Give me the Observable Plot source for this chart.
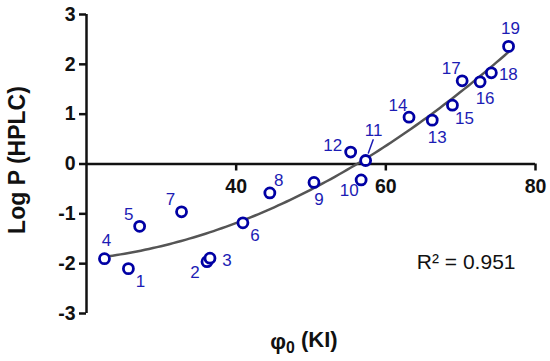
<!DOCTYPE html>
<html>
<head>
<meta charset="utf-8">
<script src="https://cdn.jsdelivr.net/npm/d3@7"></script>
<script src="https://cdn.jsdelivr.net/npm/@observablehq/plot@0.6"></script>
<style>
  html, body { margin: 0; padding: 0; background: #fff; }
  #chart { width: 550px; height: 361px; }
</style>
</head>
<body>
<div id="chart"></div>
<script>
// ---- data ----
const compoundIds = ["1","2","3","4","5","6","7","8","9","10","11","12","13","14","15","16","17","18","19"];
const phi0Values  = [25.6, 36.1, 36.5, 22.4, 27.1, 40.9, 32.7, 44.5, 50.4, 56.7, 57.3, 55.3, 66.2, 63.1, 68.9, 72.6, 70.2, 74.1, 76.4];
const logPValues  = [-2.10, -1.96, -1.89, -1.90, -1.25, -1.18, -0.96, -0.58, -0.37, -0.32, 0.07, 0.24, 0.88, 0.94, 1.18, 1.65, 1.67, 1.83, 2.36];
const labelSides  = ["SE","SW","E","N","NW","SE","NW","NE","S","SW","NN","W","S","NW","SE","S","NW","E","N"];
const xTicks = [40, 60, 80];
const yTicks = [-3, -2, -1, 0, 1, 2, 3];
const xTitle = "φ0 (KI)";
const yTitle = "Log P (HPLC)";
const r2Label = "R² = 0.951";

// ---- build table ----
const sideOffsets = {
  N: [2, -18], NN: [8, -30], NE: [9, -12], E: [17, 2], SE: [12, 13],
  S: [5, 17], SW: [-12, 11], W: [-18, -6], NW: [-11, -12]
};
const points = compoundIds.map((id, i) => ({
  id, x: phi0Values[i], y: logPValues[i],
  dx: sideOffsets[labelSides[i]][0], dy: sideOffsets[labelSides[i]][1],
  leader: labelSides[i] === "NN"
}));

// quadratic least-squares fit of logP on phi0
function quadFit(xs, ys) {
  const S = Array.from({length: 5}, (_, k) => d3.sum(xs, x => x ** k));
  const T = Array.from({length: 3}, (_, k) => d3.sum(xs, (x, i) => ys[i] * x ** k));
  const A = [[S[0], S[1], S[2], T[0]], [S[1], S[2], S[3], T[1]], [S[2], S[3], S[4], T[2]]];
  for (let c = 0; c < 3; c++) {
    for (let r = c + 1; r < 3; r++) {
      const f = A[r][c] / A[c][c];
      for (let k = c; k < 4; k++) A[r][k] -= f * A[c][k];
    }
  }
  const b = [0, 0, 0];
  for (let r = 2; r >= 0; r--) {
    let s = A[r][3];
    for (let k = r + 1; k < 3; k++) s -= A[r][k] * b[k];
    b[r] = s / A[r][r];
  }
  return b;
}
const coef = quadFit(phi0Values, logPValues);
const [xmin, xmax] = d3.extent(phi0Values);
const curve = d3.range(0, 101).map(i => {
  const x = xmin + (xmax - xmin) * i / 100;
  return {x, y: coef[0] + coef[1] * x + coef[2] * x * x};
});

const blue = "#0000a4";
const labelBlue = "#1c1cb4";
const font = "'Liberation Sans', Arial, Helvetica, sans-serif";

const plot = Plot.plot({
  width: 550,
  height: 361,
  marginLeft: 86,
  marginRight: 15,
  marginTop: 14,
  marginBottom: 48,
  style: {fontFamily: font, background: "#fff", color: "#111", overflow: "visible"},
  x: {domain: [20, 80]},
  y: {domain: [-3, 3]},
  marks: [
    Plot.ruleX([20], {stroke: "#111", strokeWidth: 2.5}),
    Plot.ruleY([0], {stroke: "#111", strokeWidth: 2.5}),
    Plot.axisY({ticks: yTicks, tickSize: 7, tickPadding: 4, strokeWidth: 2.5, fontSize: 19.5, fontWeight: "bold", label: null, tickFormat: d => String(d).replace("−", "-")}),
    Plot.axisX({ticks: xTicks, y: 0, tickSize: 7, tickPadding: 8, strokeWidth: 2.5, fontSize: 19.5, fontWeight: "bold", label: null}),
    Plot.line(curve, {x: "x", y: "y", stroke: "#555", strokeWidth: 2.5, curve: "linear"}),
    Plot.vector(points.filter(d => d.leader), {
      x: "x", y: "y", length: 22, rotate: 20, anchor: "start", stroke: labelBlue, strokeWidth: 1.5,
      shape: {draw(context, l) { context.moveTo(0, -8); context.lineTo(0, -l); }}
    }),
    Plot.dot(points, {x: "x", y: "y", r: 5, stroke: blue, strokeWidth: 2.8, fill: "#fff"}),
    Plot.text(points, {
      x: "x", y: "y", text: "id", fill: labelBlue, fontSize: 17,
      render(index, scales, values, dims, context, next) {
        const g = next(index, scales, values, dims, context);
        d3.select(g).selectAll("text").each(function(_, j) {
          const d = points[index[j]];
          const t = d3.select(this);
          const tr = t.attr("transform") || "";
          t.attr("transform", tr + ` translate(${d.dx},${d.dy})`);
        });
        return g;
      }
    }),
    Plot.text([yTitle], {frameAnchor: "left", textAnchor: "middle", lineAnchor: "middle", rotate: -90, dx: -69, dy: -4, fontSize: 23, fontWeight: "bold", fill: "#111"}),
    Plot.text([xTitle], {frameAnchor: "bottom", textAnchor: "middle", lineAnchor: "middle", dx: -7, dy: 28, fontSize: 22, fontWeight: "bold", fill: "#111"}),
    Plot.text([r2Label], {frameAnchor: "bottom-right", textAnchor: "end", lineAnchor: "middle", dx: -20, dy: -51, fontSize: 21, fill: "#111"})
  ]
});

// subscript on the x title
d3.select(plot).selectAll("text").each(function() {
  if (this.textContent === xTitle) {
    const t = d3.select(this);
    t.text(null);
    t.append("tspan").text("φ");
    t.append("tspan").text("0").attr("font-size", "0.72em").attr("dy", "0.3em");
    t.append("tspan").text(" (KI)").attr("dy", "-0.3em");
  }
});

document.getElementById("chart").appendChild(plot);
</script>
</body>
</html>
